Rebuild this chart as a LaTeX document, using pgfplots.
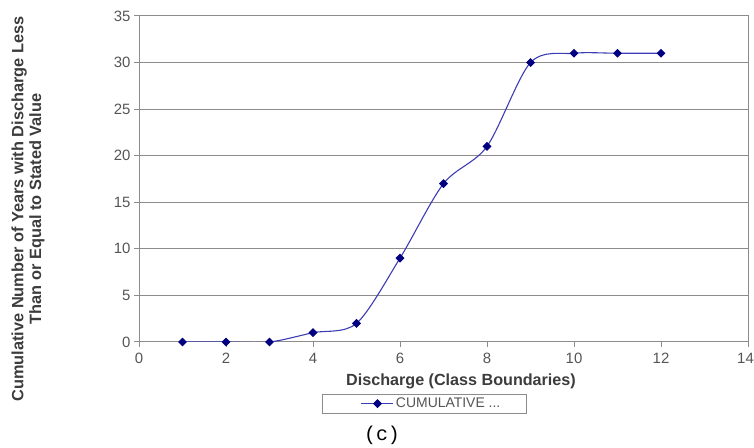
\documentclass[border=0pt]{standalone}
\usepackage{pgfplots}
\pgfplotsset{compat=1.18}
\usepackage{fontspec}
\setmainfont{Liberation Sans}
\newfontfamily\monofont{Liberation Mono}
\definecolor{gridgray}{RGB}{140,140,140}
\definecolor{ticktext}{RGB}{85,85,85}
\definecolor{labeltext}{RGB}{60,60,60}
\definecolor{linecol}{RGB}{60,60,180}
\definecolor{markcol}{RGB}{0,0,128}
\begin{document}
\begin{tikzpicture}[x=1bp,y=1bp]
\useasboundingbox (0,0) rectangle (754,448);
\begin{axis}[
  at={(139bp,106bp)}, anchor=south west,
  scale only axis, width=609bp, height=326bp,
  xmin=0, xmax=14, ymin=0, ymax=35,
  xtick={0,2,...,14}, ytick={0,5,...,35},
  xticklabels={0,2,4,6,8,10,12,\hspace{-5bp}14},
  ymajorgrids, grid style={gridgray, line width=1pt},
  axis line style={gridgray, line width=1pt},
  tick style={gridgray, line width=1pt},
  tick align=outside, major tick length=5bp, tick pos=left,
  /pgf/number format/assume math mode=true,
  tick label style={font=\fontsize{15}{17}\selectfont, text=ticktext},
  xticklabel style={yshift=-5bp, inner ysep=1bp},
  legend style={at={(0.469,-0.189)}, anchor=center, draw=gridgray, line width=1pt,
    font=\fontsize{14}{16}\selectfont, text=ticktext, inner xsep=24bp, inner ysep=2bp},
  legend image code/.code={\path (0bp,0bp); \draw[mark repeat=2,mark phase=2,#1] plot coordinates {(14bp,0bp)(30bp,0bp)(46bp,0bp)};},
]
\addplot[linecol, line width=1.1pt, smooth, tension=0.5, mark=square*,
  mark options={draw=markcol, fill=markcol, solid, rotate=45}, mark size=2.6bp]
  coordinates {(1,0) (2,0) (3,0) (4,1) (5,2) (6,9) (7,17) (8,21) (9,30) (10,31) (11,31) (12,31)};
\addlegendentry{CUMULATIVE ...}
\end{axis}
\node[rotate=90, align=center, font=\bfseries\fontsize{16.4}{18}\selectfont, text=labeltext] at (28,239)
  {Cumulative Number of Years with Discharge Less\\Than or Equal to Stated Value};
\node[inner sep=0pt, font=\bfseries\fontsize{16.2}{18}\selectfont, text=labeltext] at (461,67) {Discharge (Class Boundaries)};
\node[font=\monofont\fontsize{20}{22}\selectfont, text=black] at (382,13) {(c)};
\end{tikzpicture}
\end{document}
